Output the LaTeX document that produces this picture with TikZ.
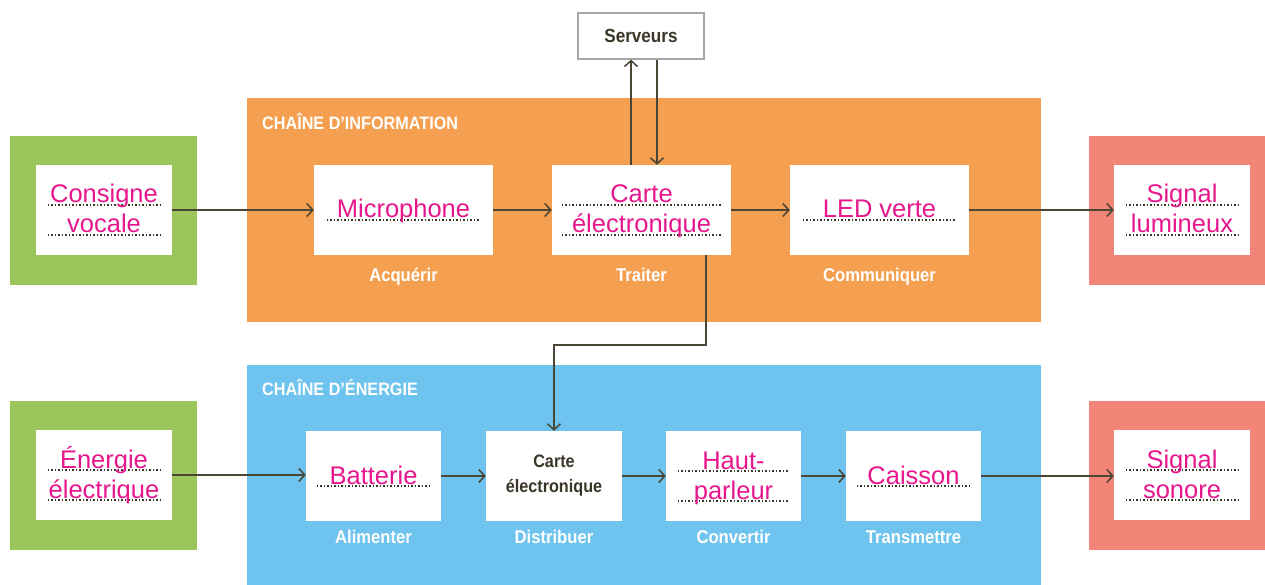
\documentclass[tikz,border=0pt]{standalone}
\usepackage{fontspec}
\setmainfont{Liberation Sans}
\newfontfamily\condf[FakeStretch=0.9]{Liberation Sans}
\usetikzlibrary{arrows.meta,calc}
\definecolor{cgreen}{RGB}{154,198,92}
\definecolor{corange}{RGB}{244,160,80}
\definecolor{cblue}{RGB}{110,196,238}
\definecolor{cred}{RGB}{242,132,120}
\definecolor{cpink}{RGB}{232,22,140}
\definecolor{carrow}{RGB}{74,69,53}
\definecolor{cdark}{RGB}{58,54,40}
\definecolor{cgray}{RGB}{165,165,165}
\tikzset{
  region/.style={rectangle, inner sep=0pt, draw=none},
  wbox/.style={rectangle, fill=white, inner sep=0pt, minimum height=90pt},
  pinktxt/.style={text=cpink, inner sep=0pt, font=\fontsize{25.5}{30}\selectfont},
  labtxt/.style={text=white, inner sep=0pt, font=\condf\bfseries\fontsize{18.5}{20}\selectfont},
  titletxt/.style={text=white, inner sep=0pt, font=\condf\bfseries\fontsize{18}{20}\selectfont},
  dotln/.style={draw=cdark, line width=2pt, dash pattern=on 1.3pt off 2.2pt},
  arr/.style={draw=carrow, line width=1.5pt, -{Straight Barb[length=6pt,width=13pt]}},
  servbox/.style={rectangle, draw=cgray, line width=1.2pt, fill=white, inner sep=0pt,
    minimum width=126pt, minimum height=46pt, text=cdark, font=\condf\bfseries\fontsize{19}{20}\selectfont}
}
% one line of pink text over a dotted line
\newcommand\fillone[3]{%
  \draw[dotln] ($(#1.west)+(#3,10)$) -- ($(#1.east)+(-#3,10)$);
  \node[pinktxt, anchor=base] (#1-a) at ($(#1.center)+(0,8)$) {#2};}
% two lines of pink text over dotted lines
\newcommand\filltwo[4]{%
  \draw[dotln] ($(#1.west)+(#4,-5)$) -- ($(#1.east)+(-#4,-5)$);
  \draw[dotln] ($(#1.west)+(#4,25)$) -- ($(#1.east)+(-#4,25)$);
  \node[pinktxt, anchor=base] (#1-a) at ($(#1.center)+(0,-7)$) {#2};
  \node[pinktxt, anchor=base] (#1-b) at ($(#1.center)+(0,23)$) {#3};}
\begin{document}
\begin{tikzpicture}[x=1pt,y=-1pt]
\useasboundingbox (0,0) rectangle (1265,585);
\fill[white] (0,0) rectangle (1265,585);

% chains
\node[region, fill=corange, minimum width=794pt, minimum height=224pt] (info) at (644,210) {};
\node[region, fill=cblue, minimum width=794pt, minimum height=222pt] (ener) at (644,476) {};
\node[titletxt, anchor=base west] (infot) at (262,130) {CHAÎNE D’INFORMATION};
\node[titletxt, anchor=base west] (enert) at (262,395) {CHAÎNE D’ÉNERGIE};

% outer frames
\node[region, fill=cgreen, minimum width=187pt, minimum height=149pt] (g1) at (103.5,210.5) {};
\node[region, fill=cgreen, minimum width=187pt, minimum height=149pt] (g2) at (103.5,475) {};
\node[region, fill=cred, minimum width=176pt, minimum height=149pt] (r1) at (1177,210.5) {};
\node[region, fill=cred, minimum width=176pt, minimum height=149pt] (r2) at (1177,475) {};

% white boxes, top row
\node[wbox, minimum width=136pt] (cons) at (104,210) {};
\node[wbox, minimum width=179pt] (mic) at (403.5,210) {};
\node[wbox, minimum width=179pt] (carte) at (641.5,210) {};
\node[wbox, minimum width=179pt] (led) at (879.5,210) {};
\node[wbox, minimum width=136pt] (lum) at (1182,210) {};
% white boxes, bottom row
\node[wbox, minimum width=136pt] (elec) at (104,475) {};
\node[wbox, minimum width=135pt] (batt) at (373.5,476) {};
\node[wbox, minimum width=136pt, align=center, text=cdark,
      font=\condf\bfseries\fontsize{18}{25}\selectfont] (carteb) at (554,476) {Carte\\électronique};
\node[wbox, minimum width=135pt] (haut) at (733.5,476) {};
\node[wbox, minimum width=135pt] (cais) at (913.5,476) {};
\node[wbox, minimum width=136pt] (son) at (1182,475) {};

% servers
\node[servbox] (serv) at (641,36) {Serveurs};

% pink texts
\filltwo{cons}{Consigne}{vocale}{12}
\fillone{mic}{Microphone}{13}
\filltwo{carte}{Carte}{électronique}{10}
\fillone{led}{LED verte}{13}
\filltwo{lum}{Signal}{lumineux}{12}
\filltwo{elec}{Énergie}{électrique}{12}
\fillone{batt}{Batterie}{11}
\filltwo{haut}{Haut-}{parleur}{12}
\fillone{cais}{Caisson}{11}
\filltwo{son}{Signal}{sonore}{12}

% function labels
\node[labtxt, anchor=base] (lacq) at ($(mic.south)+(0,26)$) {Acquérir};
\node[labtxt, anchor=base] (ltra) at ($(carte.south)+(0,26)$) {Traiter};
\node[labtxt, anchor=base] (lcom) at ($(led.south)+(0,26)$) {Communiquer};
\node[labtxt, anchor=base] (lali) at ($(batt.south)+(0,22)$) {Alimenter};
\node[labtxt, anchor=base] (ldis) at ($(carteb.south)+(0,22)$) {Distribuer};
\node[labtxt, anchor=base] (lcon) at ($(haut.south)+(0,22)$) {Convertir};
\node[labtxt, anchor=base] (ltrn) at ($(cais.south)+(0,22)$) {Transmettre};

% connectors top row
\draw[arr] (cons.east) -- (mic.west);
\draw[arr] (mic.east) -- (carte.west);
\draw[arr] (carte.east) -- (led.west);
\draw[arr] (led.east) -- (lum.west);
% servers
\draw[arr] ([xshift=-10.5pt]carte.north) -- ([xshift=-10.5pt]carte.north |- serv.south);
\draw[arr] ([xshift=15.5pt]carte.north |- serv.south) -- ([xshift=15.5pt]carte.north);
% information to energy
\draw[arr] ([xshift=64.5pt]carte.south) -- ++(0,90) -| (carteb.north);
% connectors bottom row
\draw[arr] (elec.east) -- (elec.east -| batt.west);
\draw[arr] (batt.east) -- (carteb.west);
\draw[arr] (carteb.east) -- (haut.west);
\draw[arr] (haut.east) -- (cais.west);
\draw[arr] (cais.east) -- (cais.east -| son.west);
\end{tikzpicture}
\end{document}
